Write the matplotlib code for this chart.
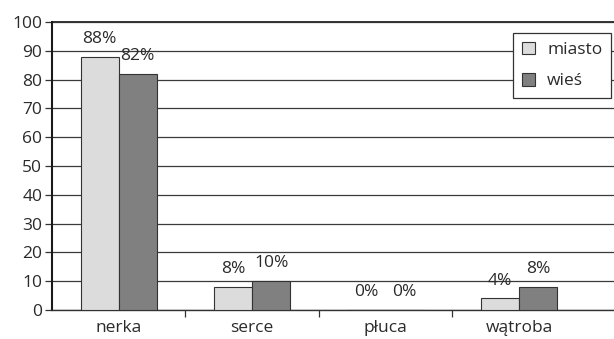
import numpy as np
import matplotlib.pyplot as plt

plt.rcParams['font.family'] = ['Open Sans', 'DejaVu Sans']

organy = ['nerka', 'serce', 'płuca', 'wątroba']
miasto = [88, 8, 0, 4]
wies = [82, 10, 0, 8]
y_ticks = list(range(0, 101, 10))

fs = 12.5
txt = '#2a2a2a'

fig = plt.figure(figsize=(6.14, 3.39), dpi=100)
ax = fig.add_axes([52 / 614, 29 / 339, 1 - 52 / 614, 288 / 339])

x = np.arange(len(organy))
w = 0.285
b1 = ax.bar(x - w / 2, miasto, w, color='#dcdcdc', edgecolor='#333333', linewidth=0.8, label='miasto', zorder=3)
b2 = ax.bar(x + w / 2, wies, w, color='#808080', edgecolor='#333333', linewidth=0.8, label='wieś', zorder=3)

for bars, vals in ((b1, miasto), (b2, wies)):
    for rect, v in zip(bars, vals):
        ax.annotate(f'{v}%', (rect.get_x() + rect.get_width() / 2, v),
                    xytext=(0, 7), textcoords='offset points',
                    ha='center', va='bottom', fontsize=fs, color=txt, zorder=4)

ax.set_ylim(0, 100)
ax.set_xlim(-0.5, 3.71)
ax.set_yticks(y_ticks)
ax.yaxis.grid(True, color='#3a3a3a', linewidth=0.9, zorder=0)
ax.set_axisbelow(True)

ax.set_xticks(x)
ax.set_xticklabels(organy)
ax.set_xticks([0.5, 1.5, 2.5], minor=True)
ax.tick_params(axis='x', which='major', length=0, pad=7, labelsize=fs, labelcolor=txt)
ax.tick_params(axis='x', which='minor', length=5, width=0.9, color='#333333')
ax.tick_params(axis='y', length=5, width=0.9, color='#333333', labelsize=fs, labelcolor=txt, pad=2)

for s in ('top', 'right'):
    ax.spines[s].set_visible(False)
ax.spines['left'].set_linewidth(1.5)
ax.spines['left'].set_color('#1a1a1a')
ax.spines['bottom'].set_linewidth(1.0)
ax.spines['bottom'].set_color('#333333')
ax.axhline(100, color='#333333', linewidth=1.4, zorder=2, clip_on=False)

leg = ax.legend(loc='upper right', fontsize=fs, frameon=True, fancybox=False, framealpha=1,
                handlelength=0.75, handleheight=0.75, handletextpad=0.7, borderpad=0.5,
                labelspacing=0.85, borderaxespad=0)
leg.get_frame().set_edgecolor('#333333')
leg.get_frame().set_linewidth(0.9)
leg.set_bbox_to_anchor((611 / 614, 1 - 33 / 339), transform=fig.transFigure)
for t in leg.get_texts():
    t.set_color(txt)

fig.savefig('out.png', dpi=100)
